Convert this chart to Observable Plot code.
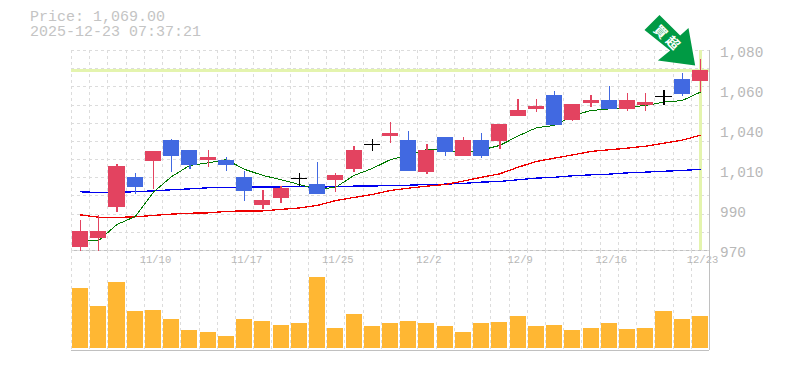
<!DOCTYPE html>
<html>
<head>
<meta charset="utf-8">
<script src="https://cdn.jsdelivr.net/npm/d3@7"></script>
<script src="https://cdn.jsdelivr.net/npm/@observablehq/plot@0.6"></script>
<style>
  html,body{margin:0;padding:0;background:#fff;}
  #wrap{position:relative;width:785px;height:370px;overflow:hidden;}
  #title{position:absolute;left:30px;top:11px;font:15px/14.5px "Liberation Mono",monospace;color:#c4c4c4;white-space:pre;z-index:2;}
  #price,#vol{position:absolute;left:0;}
  #price{top:0;}
  #vol{top:250px;}
  svg{display:block;}
</style>
</head>
<body>
<div id="wrap">
<div id="vol"></div>
<div id="price"></div>
<div id="title"></div>
</div>
<script>
const titleLines = ["Price: 1,069.00", "2025-12-23 07:37:21"];
const opens  = [971.7,976.6,993.7,1010.2,1019,1030.5,1025,1019.5,1019.5,1010.2,994.8,998.6,1009.8,1006.3,1008.5,1014.6,1028.1,1032.7,1030.5,1012.9,1032.2,1021.7,1030.5,1030,1043.7,1047.6,1055.3,1041.5,1050.9,1052.5,1047.6,1049.8,1054.9,1064,1063];
const closes = [980.5,980.5,1016.2,1004.7,1024.5,1021.7,1016.8,1021.2,1016.8,1002.5,997.5,1004.1,1009.8,1000.8,1011.3,1025,1028.1,1034.4,1013.5,1025,1023.9,1030.5,1021.7,1039.3,1047,1049.2,1038.8,1050.3,1052.5,1047.6,1052.5,1051.4,1054.9,1055.8,1069];
const highs  = [986.5,989.3,1017.3,1012.4,1024.5,1031,1025,1025,1021.2,1013.5,1003,1005.2,1012.5,1018.4,1012.4,1027.2,1031,1040.4,1035.5,1028.3,1032.2,1032.2,1034.4,1039.3,1053,1053,1057.5,1050.3,1055.3,1060.2,1056.4,1056.4,1058,1067.4,1075];
const lows   = [969.6,969.6,990.9,1000.8,1003.6,1012.9,1014.6,1015.7,1013.5,997,992.6,995.9,1005.2,1000.8,1001.9,1012.9,1024.5,1028.9,1013.5,1011.8,1021.7,1021.7,1020.6,1025.6,1043.7,1045.9,1038.8,1041,1048.7,1047.6,1046.5,1046.5,1049.8,1054.7,1056.9];
const maShort = [975.1,975.5,984.3,988.7,1002.1,1010.7,1016.8,1018.2,1020,1014.6,1011.3,1008.9,1006.3,1003.6,1004.8,1011.3,1015.1,1020,1022.3,1025.6,1025,1024.1,1025.3,1027.8,1033,1037.5,1038.8,1044.3,1047,1047.9,1048.8,1049.8,1051.6,1052.5,1057.1];
const maMid = [989.6,988.3,988.2,988.5,989.3,990,990.5,990.7,991.5,991.8,991.8,992.6,993.4,994.8,997.5,999.2,1000.8,1003,1004.3,1005.4,1006.3,1008.2,1010.3,1012.2,1015.8,1019,1020.8,1022.6,1024.5,1025.4,1026.3,1027.4,1029,1030.7,1033.4];
const maLong = [1002.3,1001.9,1002.1,1002.3,1002.8,1003.4,1003.9,1004.5,1004.5,1004.8,1005,1005,1005.2,1004.8,1005.2,1005.4,1005.4,1005.9,1005.9,1006.3,1006.5,1006.9,1007.6,1008,1008.9,1009.8,1010.3,1011.1,1011.6,1012,1012.7,1013.1,1013.6,1014,1014.7];
const volumes = [60,42,66,37,38,29,18,16,12,29,27,23,25,71,20,34,22,25,27,25,22,16,25,26,32,22,23,18,20,25,19,20,37,29,32];
const dateLabels = [[4,"11/10"],[9,"11/17"],[14,"11/25"],[19,"12/2"],[24,"12/9"],[29,"12/16"],[34,"12/23"]];
const priceTicks = [970,992,1014,1036,1058,1080];
const currentPrice = 1069;
const signalChars = ["買","超"];

document.getElementById("title").textContent = titleLines.join("\n");

const candles = opens.map((o,i)=>({i,o,c:closes[i],h:highs[i],l:lows[i],
  color: o===closes[i] ? "#000" : (closes[i]>o ? "#e34360" : "#4169e1")}));
const idx = opens.map((_,i)=>i);
const xGrid = idx.map(i=>i-0.5);
const yGrid = d3.range(970,1081,10);
const last = idx.length-1;
const GRID = "#dcdcdc", FRAME = "#c0c0c0", PALE = "#e4f4ae", LABEL = "#b8b8b8";
const crisp = {shapeRendering:"crispEdges"};

const xOpts = {type:"linear",domain:[-0.5,34.5],axis:null};
const left = 70.9, right = 785-709.1;

const arrowShape = {draw(ctx){
  ctx.moveTo(-5.3,5.8);
  ctx.lineTo(-42.6,0.8);
  ctx.lineTo(-30.3,-9.2);
  ctx.lineTo(-56,-29.5);
  ctx.lineTo(-41,-44.5);
  ctx.lineTo(-20.3,-24.2);
  ctx.lineTo(-12,-31.5);
  ctx.closePath();
}};

const price = Plot.plot({
  width:785,height:262,marginTop:50,marginBottom:12,marginLeft:left,marginRight:right,
  x:xOpts,
  y:{domain:[970,1080],axis:null},
  marks:[
    Plot.ruleY(yGrid,{stroke:GRID,strokeDasharray:"3,3",...crisp}),
    Plot.ruleX(xGrid,{stroke:GRID,strokeDasharray:"3,3",...crisp}),
    Plot.ruleY([currentPrice],{stroke:PALE,strokeWidth:3,...crisp}),
    Plot.ruleX([last],{stroke:PALE,strokeWidth:3,...crisp}),
    Plot.line(idx,{x:d=>d,y:d=>maLong[d],stroke:"#0000ee",strokeWidth:1.3,...crisp}),
    Plot.line(idx,{x:d=>d,y:d=>maMid[d],stroke:"#ee0000",strokeWidth:1.3,...crisp}),
    Plot.line(idx,{x:d=>d,y:d=>maShort[d],stroke:"#007a00",strokeWidth:1,...crisp}),
    Plot.ruleX(candles,{x:"i",y1:"l",y2:"h",stroke:"color",strokeWidth:1.3,...crisp}),
    Plot.rect(candles.filter(d=>d.o!==d.c),{x1:d=>d.i-0.5,x2:d=>d.i+0.5,y1:"o",y2:"c",fill:"color",insetLeft:1.1,insetRight:1.1,...crisp}),
    Plot.ruleY(candles.filter(d=>d.o===d.c),{y:"o",x1:d=>d.i-0.5,x2:d=>d.i+0.5,stroke:"color",strokeWidth:1,insetLeft:1.1,insetRight:1.1,...crisp}),
    Plot.vector([last],{x:d=>d,y:d=>highs[d],shape:arrowShape,length:1,anchor:"start",rotate:0,fill:"#009a44",stroke:"none"}),
    Plot.text([last],{x:d=>d,y:d=>highs[d],dx:-40.3,dy:-27.5,text:()=>signalChars[0],rotate:45,fill:"#fff",fontSize:13,fontWeight:"bold",fontFamily:"Noto Sans CJK JP"}),
    Plot.text([last],{x:d=>d,y:d=>highs[d],dx:-28,dy:-16.5,text:()=>signalChars[1],rotate:45,fill:"#fff",fontSize:13,fontWeight:"bold",fontFamily:"Noto Sans CJK JP"}),
    Plot.ruleX([34.5],{stroke:FRAME,strokeWidth:1.5,...crisp}),
    Plot.axisY({anchor:"right",ticks:priceTicks,tickSize:0,tickPadding:10.5,tickFormat:d=>d3.format(",")(Math.round(d/10)*10),fill:LABEL,color:LABEL,fontSize:14.4,fontFamily:"Liberation Mono",dy:2,textAnchor:"start"})
  ]
});
document.getElementById("price").append(price);

const vol = Plot.plot({
  width:785,height:120,marginTop:0,marginBottom:20,marginLeft:left,marginRight:right,
  x:xOpts,
  y:{domain:[-2,98],axis:null},
  marks:[
    Plot.ruleX(xGrid,{stroke:GRID,strokeDasharray:"3,3",...crisp}),
    Plot.rectY(idx,{x1:d=>d-0.5,x2:d=>d+0.5,y:d=>volumes[d],fill:"#ffb733",insetLeft:1.1,insetRight:1.1,...crisp}),
    Plot.text(dateLabels,{x:d=>d[0],text:d=>d[1],frameAnchor:"top",dy:5,dx:2,fill:LABEL,fontSize:10.5,fontFamily:"Liberation Mono",lineAnchor:"top"}),
    Plot.ruleY([-2,98],{stroke:FRAME,strokeWidth:1.5,...crisp}),
    Plot.ruleX([34.5],{stroke:FRAME,strokeWidth:1.5,...crisp})
  ]
});
document.getElementById("vol").append(vol);
</script>
</body>
</html>
